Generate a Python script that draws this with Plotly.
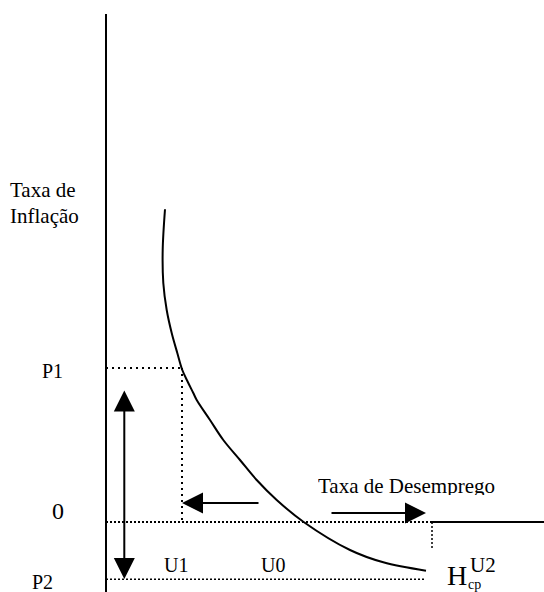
import plotly.graph_objects as go

# Short-run Phillips curve (H_cp) points: unemployment (x) vs inflation (y)
curve_u = [5.90, 5.67, 5.73, 6.07, 6.57, 7.13, 7.63, 8.17, 8.73, 9.07, 10.4, 11.73, 13.4, 15.07, 17.07, 19.73, 24.4, 27.73, 32.0]
curve_pi = [31.27, 27.2, 23.9, 21.2, 18.9, 16.9, 15.2, 14.03, 12.9, 12.2, 10.2, 8.2, 6.2, 4.2, 2.2, 0.03, -2.8, -4.03, -4.87]

# Key levels
U1, U0, U2 = 7.6, 19.8, 32.6
P1, P2 = 15.4, -5.73
U_END = 32.0          # end of curve / P2 line
Y_TOP = 50.8          # top of inflation axis
X_MIN, X_MAX = -10.6, 43.8
Y_MIN, Y_MAX = -7.0, 52.2
U2_TICK = -2.6

# Arrows: (tail, tip)
arrow_vert_x = 1.83
arrow_vert_y = (13.3, -5.7)
arrow_left_y = 1.9
arrow_left_x = (15.4, 7.6)
arrow_right_y = 0.9
arrow_right_x = (22.4, 32.0)

FONT = "Liberation Serif"
BLACK = "#000000"

fig = go.Figure()

def seg(x, y, dash="solid", width=2):
    fig.add_trace(go.Scatter(x=x, y=y, mode="lines", hoverinfo="skip",
                             line=dict(color=BLACK, width=width, dash=dash),
                             showlegend=False))

# dotted guide lines
seg([0, U1], [P1, P1], dash="2px,4px", width=2)
seg([U1, U1], [P1, 0], dash="2px,4px", width=2)
seg([0, U2], [0, 0], dash="2px,2px", width=2)
seg([U2, U2], [0, U2_TICK], dash="2px,2px", width=1.5)
seg([0, U_END], [P2, P2], dash="2px,2px", width=1.5)

# axes
seg([0, 0], [Y_MIN, Y_TOP], width=2)
seg([U2, X_MAX], [0, 0], width=2)

# curve
fig.add_trace(go.Scatter(x=curve_u, y=curve_pi, mode="lines", hoverinfo="skip",
                         line=dict(color=BLACK, width=2, shape="spline", smoothing=1.0),
                         showlegend=False))

def arrow(x_tip, y_tip, x_tail, y_tail, both=False):
    d = dict(x=x_tip, y=y_tip, ax=x_tail, ay=y_tail, xref="x", yref="y",
             axref="x", ayref="y", text="", showarrow=True, arrowhead=2,
             arrowsize=2.1, arrowwidth=2, arrowcolor=BLACK, standoff=0)
    if both:
        d.update(arrowside="end+start", startarrowhead=2, startarrowsize=2.1, startstandoff=0)
    fig.add_annotation(**d)

arrow(arrow_vert_x, arrow_vert_y[1], arrow_vert_x, arrow_vert_y[0], both=True)
arrow(arrow_left_x[1], arrow_left_y, arrow_left_x[0], arrow_left_y)
arrow(arrow_right_x[1], arrow_right_y, arrow_right_x[0], arrow_right_y)

def label(text, x, y, size, **kw):
    fig.add_annotation(x=x, y=y, text=text, showarrow=False, xref="x", yref="y",
                       xanchor="left", yanchor="middle", borderpad=0,
                       font=dict(family=FONT, size=size, color=BLACK), **kw)

label("Taxa de", -9.67, 33.24, 21)
label("Inflação", -9.67, 30.64, 21)
label("P1", -6.54, 15.08, 20)
label("0", -5.54, 1.11, 24)
label("P2", -7.53, -5.98, 20)
label("U1", 5.73, -4.33, 20)
label("U0", 15.4, -4.33, 20)
label("U2", 36.3, -4.29, 21)
label("H", 34.0, -5.36, 28)
label("cp", 36.1, -6.25, 14)
label("Taxa de Desemprego", 21.13, 3.74, 21, height=21, valign="top")

fig.update_layout(
    width=544, height=592,
    margin=dict(l=0, r=0, t=0, b=0),
    paper_bgcolor="white", plot_bgcolor="white",
    xaxis=dict(range=[X_MIN, X_MAX], visible=False, fixedrange=True),
    yaxis=dict(range=[Y_MIN, Y_MAX], visible=False, fixedrange=True),
    showlegend=False,
)

fig.write_html("out.html", config={"displayModeBar": False},
               post_script="document.body.style.margin='0';document.body.style.overflow='hidden';")
